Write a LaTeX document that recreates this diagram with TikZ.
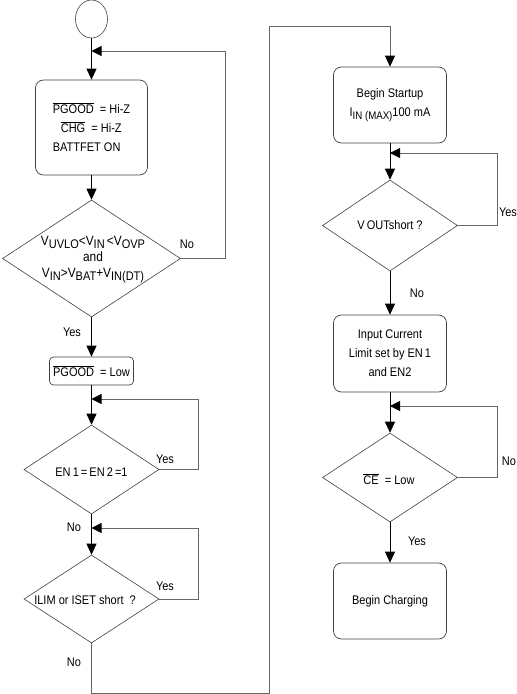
\documentclass[tikz,border=0pt]{standalone}
\usepackage{fontspec}
\setmainfont{Liberation Sans}[FakeStretch=0.88]
\usetikzlibrary{shapes.geometric,arrows.meta}
\newcommand\ovl[1]{$\overline{\hbox{#1}}$}
\newcommand\sbs[1]{\raisebox{-2.5pt}{\fontsize{11}{11}\selectfont #1}}
\newcommand\sbb[1]{\raisebox{-3pt}{\fontsize{12.5}{12.5}\selectfont #1}}
\begin{document}
\begin{tikzpicture}[x=1pt,y=-1pt,
  every node/.style={font=\fontsize{12.5}{19}\selectfont},
  procbox/.style={draw=black!75, line width=0.7pt, rounded corners=8pt, inner sep=0pt, align=center},
  dec/.style={draw=black!75, line width=0.6pt, diamond, inner sep=0pt},
  dtext/.style={inner sep=0pt, align=center},
  arr/.style={line width=0.8pt, -{Triangle[length=11pt,width=10pt]}},
  fb/.style={line width=0.8pt, draw=black!60, -{Triangle[length=10pt,width=10pt,color=black]}},
  lbl/.style={inner sep=0pt}]
\useasboundingbox (0,0) rectangle (517,694);

% left column
\node[draw=black!75, line width=0.6pt, ellipse, minimum width=32pt, minimum height=38pt, inner sep=0pt] (start) at (91.5,19) {};
\node[procbox, minimum width=112pt, minimum height=95pt, align=left] (b1) at (91.5,127.5)
  {\ovl{PGOOD}\ \ = Hi-Z\\ \hspace*{8pt}\ovl{CHG}\ \ = Hi-Z\\ BATTFET ON};
\node[dec, minimum width=178pt, minimum height=117pt] (d1) at (91.5,258.5) {};
\node[dtext, font=\fontsize{13.5}{16}\selectfont] (t1) at (93,260)
  {V\sbb{UVLO}<V\sbb{IN}\,<V\sbb{OVP}\\ and\\ V\sbb{IN}>V\sbb{BAT}+V\sbb{IN(DT)}};
\node[procbox, rounded corners=4pt, minimum width=84pt, minimum height=28pt] (b2) at (91.5,371) {\ovl{PGOOD}\ \ = Low};
\node[dec, minimum width=135pt, minimum height=89pt] (d2) at (91.5,469.5) {};
\node[dtext] (t2) at (91.5,472) {EN\,1\,=\,EN\,2\,=1};
\node[dec, minimum width=135pt, minimum height=88pt] (d3) at (91.5,599) {};
\node[dtext] (t3) at (85,600) {ILIM or ISET short\hspace{6pt}?};

% right column
\node[procbox, minimum width=113pt, minimum height=76pt] (b3) at (390,105)
  {Begin Startup\\ I\sbs{IN (MAX)}100 mA};
\node[dec, minimum width=135pt, minimum height=91pt] (d4) at (390,225.5) {};
\node[dtext] (t4) at (390,225) {V\,OUTshort ?};
\node[procbox, minimum width=113pt, minimum height=77pt] (b4) at (390,353.5)
  {Input Current\\ Limit set by EN\,1\\ and EN2};
\node[dec, minimum width=135pt, minimum height=89pt] (d5) at (390,477.5) {};
\node[dtext] (t5) at (389,479) {\ovl{CE}\ \ = Low};
\node[procbox, minimum width=113pt, minimum height=76pt] (b5) at (390,601) {Begin Charging};

% junction coordinates
\coordinate (j1) at (91.5,51);  \coordinate (r1) at (225,51);
\coordinate (j2) at (91.5,399); \coordinate (r2) at (198,399);
\coordinate (j3) at (91.5,528); \coordinate (r3) at (198,528);
\coordinate (c1) at (91.5,693); \coordinate (c2) at (269,693);
\coordinate (c3) at (269,26);   \coordinate (c4) at (390,26);
\coordinate (j4) at (390,153);  \coordinate (r4) at (497,153);
\coordinate (j5) at (390,406);  \coordinate (r5) at (497,406);

% connectors left
\draw[arr] (start.south) -- (b1.north);
\draw[fb] (d1.east) -| (r1) -- (j1);
\draw[arr] (b1.south) -- (d1.north);
\draw[arr] (d1.south) -- (b2.north);
\draw[arr] (b2.south) -- (d2.north);
\draw[fb] (d2.east) -| (r2) -- (j2);
\draw[arr] (d2.south) -- (d3.north);
\draw[fb] (d3.east) -| (r3) -- (j3);
\draw[line width=0.8pt, draw=black!60, -{Triangle[length=11pt,width=10pt,color=black]}]
  (d3.south) -- (c1) -- (c2) -- (c3) -- (c4) -- (b3.north);

% connectors right
\draw[arr] (b3.south) -- (d4.north);
\draw[fb] (d4.east) -| (r4) -- (j4);
\draw[arr] (d4.south) -- (b4.north);
\draw[arr] (b4.south) -- (d5.north);
\draw[fb] (d5.east) -| (r5) -- (j5);
\draw[arr] (d5.south) -- (b5.north);

% labels
\node[lbl] (l1) at (187,244) {No};
\node[lbl] (l2) at (72,332) {Yes};
\node[lbl] (l3) at (165,459) {Yes};
\node[lbl] (l4) at (74,527) {No};
\node[lbl] (l5) at (165,586) {Yes};
\node[lbl] (l6) at (74,662) {No};
\node[lbl] (l7) at (508,212) {Yes};
\node[lbl] (l8) at (417,293) {No};
\node[lbl] (l9) at (509,461) {No};
\node[lbl] (l10) at (417,541) {Yes};
\end{tikzpicture}
\end{document}
